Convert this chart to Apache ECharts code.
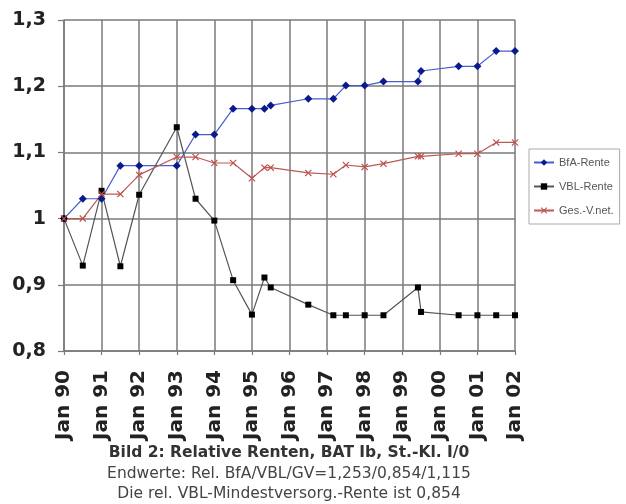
<!DOCTYPE html>
<html>
<head>
<meta charset="utf-8">
<script src="https://cdn.jsdelivr.net/npm/echarts@6/dist/echarts.min.js"></script>
<style>
html,body{margin:0;padding:0;background:#fff;}
#c{width:626px;height:504px;}
</style>
</head>
<body>
<div id="c"></div>
<script>
// Months since Jan 1990
const months = [0,6,12,18,24,36,42,48,54,60,64,66,78,86,90,96,102,113,114,126,132,138,144];
const bfaValues = [1.000,1.030,1.030,1.080,1.080,1.080,1.127,1.127,1.166,1.166,1.166,1.171,1.181,1.181,1.201,1.201,1.207,1.207,1.223,1.230,1.230,1.253,1.253];
const vblValues = [1.000,0.929,1.042,0.928,1.036,1.138,1.030,0.997,0.907,0.855,0.911,0.896,0.870,0.854,0.854,0.854,0.854,0.896,0.859,0.854,0.854,0.854,0.854];
const gesValues = [1.000,1.000,1.037,1.037,1.066,1.093,1.093,1.084,1.084,1.061,1.077,1.077,1.069,1.067,1.081,1.078,1.083,1.094,1.094,1.098,1.098,1.115,1.115];
const seriesNames = ['BfA-Rente','VBL-Rente','Ges.-V.net.'];
const yearLabels = ['Jan 90','Jan 91','Jan 92','Jan 93','Jan 94','Jan 95','Jan 96','Jan 97','Jan 98','Jan 99','Jan 00','Jan 01','Jan 02'];
const titleLines = ['Bild 2: Relative Renten, BAT Ib, St.-Kl. I/0','Endwerte: Rel. BfA/VBL/GV=1,253/0,854/1,115','Die rel. VBL-Mindestversorg.-Rente ist 0,854'];

const pair = vals => months.map((m,i)=>[m, vals[i]]);
const xShape = 'path://M0,1.2L1.2,0L5,3.8L8.8,0L10,1.2L6.2,5L10,8.8L8.8,10L5,6.2L1.2,10L0,8.8L3.8,5Z';

const chart = echarts.init(document.getElementById('c'));
const gridCol = '#7a7a7a';
chart.setOption({
  animation:false,
  backgroundColor:'#fff',
  grid:{left:64,right:111,top:20,bottom:153,containLabel:false},
  xAxis:{
    type:'value',min:0,max:144,interval:12,
    axisLine:{show:true,lineStyle:{color:gridCol,width:1.5}},
    axisTick:{show:true,length:4,lineStyle:{color:gridCol,width:1.2}},
    splitLine:{show:true,lineStyle:{color:gridCol,width:1.5}},
    axisLabel:{
      rotate:90,margin:19,
      fontFamily:'DejaVu Sans',fontWeight:'bold',fontSize:20,color:'#222',
      formatter:v=>yearLabels[Math.round(v/12)] || ''
    }
  },
  yAxis:{
    type:'value',min:0.8,max:1.3,interval:0.1,
    axisLine:{show:true,lineStyle:{color:gridCol,width:1.5}},
    axisTick:{show:true,length:6,lineStyle:{color:gridCol,width:1.2}},
    splitLine:{show:true,lineStyle:{color:gridCol,width:1.5}},
    axisLabel:{
      margin:18,fontFamily:'DejaVu Sans',fontWeight:'bold',fontSize:19,color:'#222',
      formatter:v=>{const r=Math.round(v*10)/10; return r===1?'1':r.toFixed(1).replace('.',',');}
    }
  },
  legend:{
    orient:'vertical',left:529,top:149,
    data:seriesNames,
    itemWidth:20,itemHeight:8,itemGap:13,
    padding:[8,6,8,4],
    borderColor:'#aaa',borderWidth:1,backgroundColor:'#fff',
    textStyle:{fontFamily:'Liberation Sans',fontSize:11,color:'#555'}
  },
  series:[
    {name:seriesNames[0],type:'line',data:pair(bfaValues),symbol:'diamond',symbolSize:8,
     itemStyle:{color:'#0a1a8c'},lineStyle:{color:'#4a5cd0',width:1.2}},
    {name:seriesNames[1],type:'line',data:pair(vblValues),symbol:'rect',symbolSize:6,
     itemStyle:{color:'#000'},lineStyle:{color:'#555',width:1.2}},
    {name:seriesNames[2],type:'line',data:pair(gesValues),symbol:xShape,symbolSize:7,
     itemStyle:{color:'#c0504d'},lineStyle:{color:'#b85a55',width:1.2}}
  ],
  graphic:[
    {type:'text',x:289,y:453,style:{text:titleLines[0],font:'bold 15.5px "DejaVu Sans"',fill:'#333',align:'center',verticalAlign:'middle'}},
    {type:'text',x:289,y:474,style:{text:titleLines[1],font:'15.5px "DejaVu Sans"',fill:'#444',align:'center',verticalAlign:'middle'}},
    {type:'text',x:289,y:494,style:{text:titleLines[2],font:'15.5px "DejaVu Sans"',fill:'#444',align:'center',verticalAlign:'middle'}}
  ]
});
</script>
</body>
</html>
